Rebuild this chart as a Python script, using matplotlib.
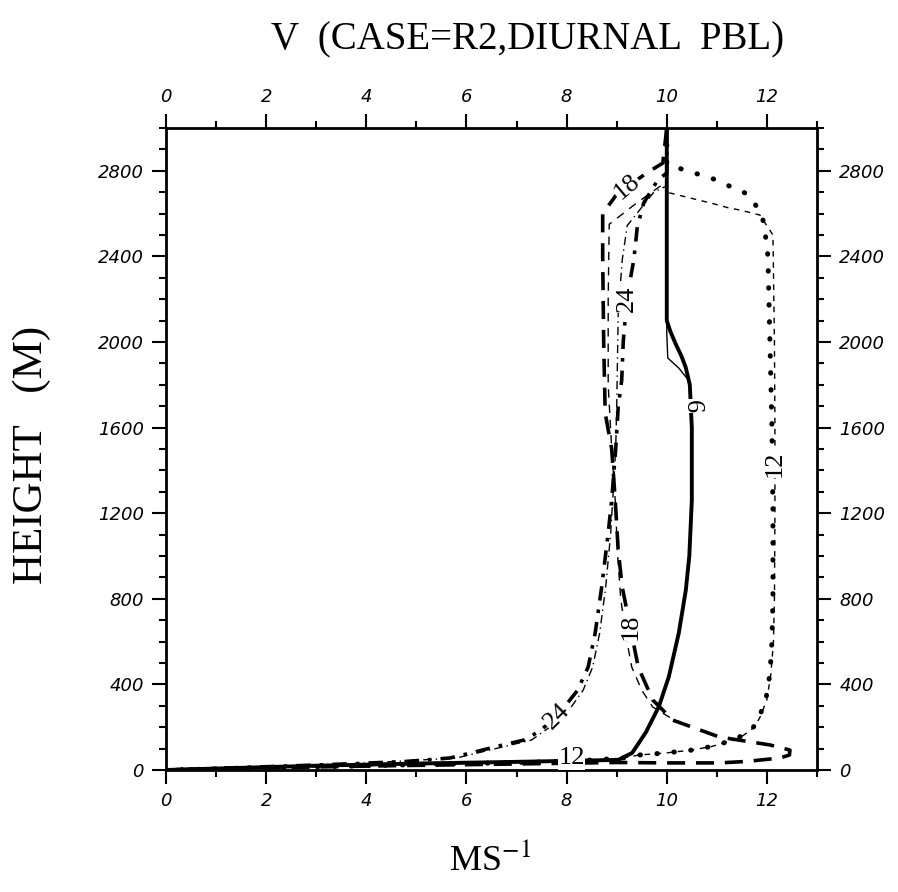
import numpy as np
import matplotlib
matplotlib.use("Agg")
import matplotlib.pyplot as plt
from matplotlib.ticker import MultipleLocator

plt.rcParams["mathtext.fontset"] = "stix"

# wind speed (m/s) vs height (m)
z6 = [3000, 2100, 2050, 1990, 1930, 1880, 1800, 1600, 1260, 1000, 840, 640, 435, 295, 175, 80, 47, 38, 30, 20, 10, 0]
u6 = [10.0, 10.0, 10.07, 10.18, 10.3, 10.38, 10.46, 10.5, 10.5, 10.45, 10.38, 10.24, 10.04, 9.84, 9.58, 9.31, 9.03, 7.0, 5.0, 3.0, 1.5, 0.0]
z6_thin = [3000, 2040, 1925, 1878, 1820, 1760]
u6_thin = [10.0, 10.0, 10.02, 10.24, 10.44, 10.48]

z12 = [3000, 2830, 2762, 2738, 2715, 2692, 2645, 2593, 2537, 2400, 2000, 1600, 1200, 800, 600, 450, 330, 250, 200, 160, 140, 110, 93, 80, 70, 55, 40, 30, 20, 10, 0]
u12 = [10.0, 10.0, 10.93, 11.15, 11.4, 11.6, 11.76, 11.9, 11.95, 12.02, 12.06, 12.1, 12.12, 12.12, 12.1, 12.06, 11.98, 11.85, 11.73, 11.5, 11.33, 10.9, 10.5, 10.0, 9.45, 9.1, 8.0, 6.0, 4.0, 2.0, 0.0]
z12_thin = [3000, 2700, 2645, 2627, 2617, 2603, 2593, 2500, 2000, 1600, 1200, 800, 600, 450, 330, 250, 200, 160, 140, 110, 93, 80, 70, 55, 40, 30, 20, 10, 0]
u12_thin = [10.0, 10.0, 10.95, 11.23, 11.45, 11.7, 11.86, 12.12, 12.15, 12.16, 12.16, 12.15, 12.13, 12.08, 12.0, 11.87, 11.75, 11.52, 11.35, 10.9, 10.5, 10.0, 9.45, 9.1, 8.0, 6.0, 4.0, 2.0, 0.0]

z18 = [3000, 2836, 2790, 2740, 2690, 2600, 2400, 2000, 1668, 1500, 1262, 1028, 855, 668, 481, 327, 233, 154, 117, 93, 70, 56, 40, 33, 33, 35, 28, 20, 10, 0]
u18 = [10.0, 9.92, 9.6, 9.3, 9.0, 8.72, 8.72, 8.74, 8.77, 8.9, 8.97, 9.03, 9.11, 9.27, 9.43, 9.72, 10.12, 11.05, 12.06, 12.46, 12.45, 12.26, 11.6, 11.05, 10.0, 9.0, 7.0, 4.5, 2.0, 0.0]
z18_thin = [3000, 2750, 2650, 2550, 2200, 1800, 1500, 1262, 1000, 800, 607, 481, 373, 294, 240]
u18_thin = [10.0, 10.0, 9.4, 8.85, 8.83, 8.83, 8.9, 8.97, 9.02, 9.08, 9.2, 9.3, 9.5, 9.72, 10.1]

z24 = [3000, 2790, 2757, 2650, 2537, 2444, 2369, 2200, 2000, 1822, 1696, 1500, 1262, 1107, 855, 640, 481, 373, 248, 180, 140, 107, 80, 56, 40, 30, 20, 10, 0]
u24 = [10.0, 10.0, 9.82, 9.54, 9.41, 9.37, 9.33, 9.2, 9.13, 9.1, 9.03, 8.98, 8.9, 8.83, 8.7, 8.57, 8.43, 8.22, 7.8, 7.45, 7.15, 6.55, 6.1, 5.67, 4.8, 3.8, 2.6, 1.3, 0.0]
z24_thin = [3000, 2730, 2700, 2544, 2383, 2133, 1696, 1500, 1262, 1107, 855, 640, 481, 373, 248, 140, 56, 30, 10, 0]
u24_thin = [10.0, 10.0, 9.74, 9.21, 9.11, 9.03, 9.0, 8.98, 8.92, 8.88, 8.78, 8.66, 8.52, 8.33, 7.95, 7.3, 5.8, 3.8, 1.3, 0.0]

# curve labels: text, u, z, rotation
curve_labels = [
    ("6", 10.5, 1700, -90),
    ("12", 12.15, 1430, 90),
    ("12", 8.1, 55, 0),
    ("18", 9.2, 2725, 40),
    ("18", 9.27, 668, 90),
    ("24", 9.2, 2200, 90),
    ("24", 7.8, 250, 45),
]

fig = plt.figure(figsize=(8.98, 8.92), dpi=100)
ax = fig.add_axes([0.1849, 0.1368, 0.7249, 0.7197])

ax.plot(u6, z6, color="black", lw=2.8, solid_capstyle="butt")
ax.plot(u6_thin, z6_thin, color="black", lw=1.0)
ax.plot(u12_thin, z12_thin, color="black", lw=1.0, dashes=(4, 4))
ax.plot(u12, z12, color="black", lw=3.6, dashes=(0.1, 3.3), dash_capstyle="round")
ax.plot(u18_thin, z18_thin, color="black", lw=1.0, dashes=(6, 5))
ax.plot(u18, z18, color="black", lw=2.6, dashes=(5, 3))
ax.plot(u24_thin, z24_thin, color="black", lw=1.0, dashes=(6, 3, 1, 3))
ax.plot(u24, z24, color="black", lw=2.6, dashes=(4, 2.5, 1, 2.5))

for txt, u, z, rot in curve_labels:
    ax.text(u, z, txt, rotation=rot, ha="center", va="center",
            fontsize=19, family="Liberation Serif",
            bbox=dict(facecolor="white", edgecolor="none", pad=0.3))

ax.set_xlim(0, 13)
ax.set_ylim(0, 3000)
ax.set_xticks(np.arange(0, 13, 2))
ax.xaxis.set_minor_locator(MultipleLocator(1))
ax.yaxis.set_major_locator(MultipleLocator(400))
ax.yaxis.set_minor_locator(MultipleLocator(100))
ax.tick_params(which="both", direction="out", top=True, right=True,
               labeltop=True, labelright=True, width=1.5)
ax.tick_params(which="major", length=10, pad=6)
ax.tick_params(which="minor", length=5)
for t in ax.xaxis.get_major_ticks() + ax.yaxis.get_major_ticks():
    for lab in (t.label1, t.label2):
        lab.set_fontstyle("italic")
        lab.set_family("DejaVu Sans")
        lab.set_fontsize(13)
for sp in ax.spines.values():
    sp.set_linewidth(2)

fig.text(0.587, 0.955, "V  (CASE=R2,DIURNAL  PBL)", ha="center", va="center",
         fontsize=28, family="Liberation Serif")
fig.text(0.035, 0.49, "HEIGHT   (M)", rotation=90, ha="center", va="center",
         fontsize=31, family="Liberation Serif")
fig.text(0.546, 0.035, r"MS$^{-1}$", ha="center", va="center",
         fontsize=26, family="Liberation Serif")

fig.savefig("out.png", dpi=100)
